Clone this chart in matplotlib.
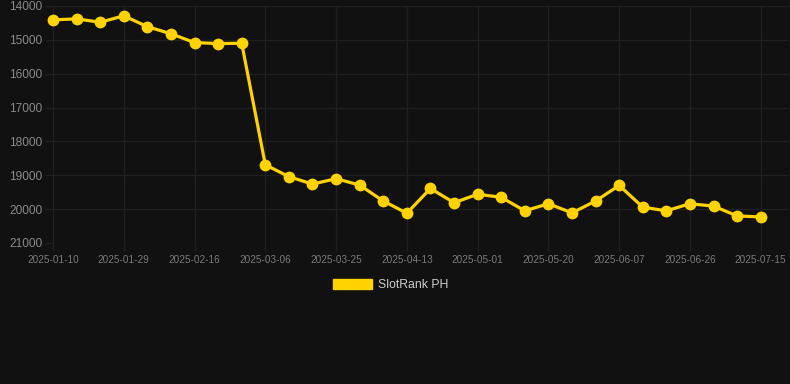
import matplotlib
matplotlib.use("Agg")
import matplotlib.pyplot as plt
from matplotlib.patches import Patch

plt.rcParams['font.family'] = ['Liberation Sans', 'DejaVu Sans']

tick_labels = ["2025-01-10", "2025-01-29", "2025-02-16", "2025-03-06", "2025-03-25",
               "2025-04-13", "2025-05-01", "2025-05-20", "2025-06-07", "2025-06-26",
               "2025-07-15"]
ranks = [14410, 14380, 14480, 14290, 14610, 14820, 15080, 15110, 15100,
         18690, 19040, 19260, 19100, 19290, 19760, 20120, 19390, 19810,
         19560, 19650, 20050, 19840, 20110, 19760, 19300, 19940, 20050,
         19840, 19910, 20200, 20230]
series_name = "SlotRank PH"
y_ticks = [14000, 15000, 16000, 17000, 18000, 19000, 20000, 21000]

W, H = 790, 384
fig = plt.figure(figsize=(W / 100, H / 100), dpi=100)
fig.patch.set_facecolor('#111111')
ax = fig.add_axes([53 / W, 1 - 243 / H, (789 - 53) / W, (243 - 6) / H])
ax.set_facecolor('#111111')

grid_c = '#202020'
x = list(range(len(ranks)))
ax.plot(x, ranks, color='#FFD200', lw=2.3, marker='o', ms=8.5,
        markeredgewidth=0, solid_joinstyle='round', zorder=3, clip_on=False)

ax.set_ylim(21000, 14000)
ax.set_yticks(y_ticks)
ax.set_yticklabels([str(v) for v in y_ticks])
step = 3
ax.set_xticks([i * step for i in range(len(tick_labels))])
ax.set_xticklabels(tick_labels)
ax.set_xlim(0, 31.2)

ax.grid(True, color=grid_c, lw=1.0)
ax.set_axisbelow(True)
for s in ax.spines.values():
    s.set_visible(False)
ax.tick_params(axis='y', length=5.8, width=1.0, color=grid_c, pad=2,
               labelsize=8.6, labelcolor='#8a8a8a')
ax.tick_params(axis='x', length=5.8, width=1.0, color=grid_c, pad=2.5,
               labelsize=7.2, labelcolor='#7a7a7a')

handle = Patch(facecolor='#FFD200', edgecolor='#FFD200')
leg = fig.legend([handle], [series_name], loc='center',
                 bbox_to_anchor=(391 / W, 1 - 285 / H), frameon=False,
                 fontsize=8.8, handlelength=3.2, handleheight=0.95,
                 handletextpad=0.5)
for t in leg.get_texts():
    t.set_color('#cccccc')

fig.savefig('out.png', dpi=100, facecolor=fig.get_facecolor())
